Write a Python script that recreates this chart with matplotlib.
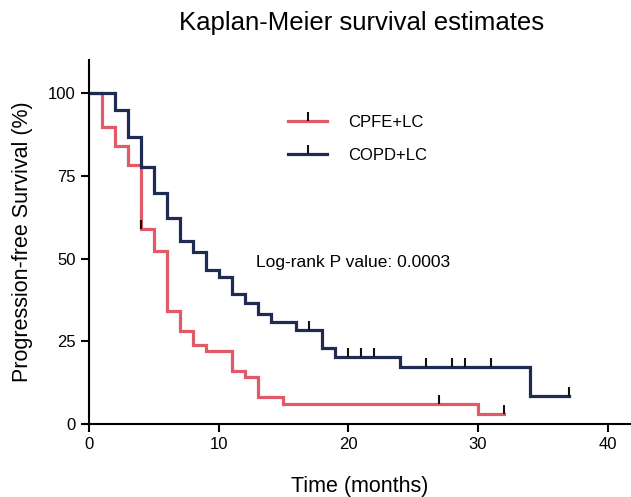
import numpy as np
import matplotlib
matplotlib.use("Agg")
import matplotlib.pyplot as plt
from matplotlib.path import Path
from matplotlib.lines import Line2D

plt.rcParams['font.family'] = ['Liberation Sans', 'DejaVu Sans']

# CPFE+LC curve (time in months, survival %)
cpfe_t = [0, 1, 2, 3, 4, 5, 6, 7, 8, 9, 11, 12, 13, 15, 30, 32]
cpfe_s = [100, 89.7, 84.0, 78.2, 58.8, 52.4, 34.2, 28.2, 23.9, 22.1, 16.1, 14.2, 8.2, 6.1, 3.0, 3.0]
cpfe_cens_t = [4, 27, 32]
cpfe_cens_s = [58.8, 6.1, 3.0]

# COPD+LC curve
copd_t = [0, 2, 3, 4, 5, 6, 7, 8, 9, 10, 11, 12, 13, 14, 16, 18, 19, 24, 34, 37]
copd_s = [100, 94.8, 86.7, 77.6, 69.7, 62.4, 55.2, 52.1, 46.4, 44.5, 39.4, 36.7, 33.3, 30.9,
          28.5, 23.0, 20.3, 17.2, 8.6, 8.6]
copd_cens_t = [17, 20, 21, 22, 26, 28, 29, 31, 37]
copd_cens_s = [28.5, 20.3, 20.3, 20.3, 17.2, 17.2, 17.2, 17.2, 8.6]

red = '#e05a68'
navy = '#1f2b52'

# censor tick: vertical stroke going up from the point
tick = Path([(0, 0), (0, 1)], [Path.MOVETO, Path.LINETO])

fig = plt.figure(figsize=(6.31, 4.97), dpi=100)
ax = fig.add_axes([89 / 631, 1 - 424 / 497, (631 - 89) / 631, (424 - 60) / 497])

ax.step(cpfe_t, cpfe_s, where='post', color=red, lw=2.3, solid_joinstyle='miter')
ax.step(copd_t, copd_s, where='post', color=navy, lw=2.3, solid_joinstyle='miter')
ax.plot(cpfe_cens_t, cpfe_cens_s, ls='none', marker=tick, ms=13, mew=1.5, color='#111111')
ax.plot(copd_cens_t, copd_cens_s, ls='none', marker=tick, ms=13, mew=1.5, color='#111111')

ax.set_xlim(0, 41.8)
ax.set_ylim(0, 110)
ax.set_xticks([0, 10, 20, 30, 40])
ax.set_yticks([0, 25, 50, 75, 100])
ax.tick_params(labelsize=12, width=1.5, length=6, direction='out')
for side in ['top', 'right']:
    ax.spines[side].set_visible(False)
for side in ['left', 'bottom']:
    ax.spines[side].set_linewidth(1.5)

ax.set_xlabel('Time (months)', fontsize=15.5, labelpad=17)
ax.set_ylabel('Progression-free Survival (%)', fontsize=15.5, labelpad=11)
fig.text(362 / 631, 1 - 23 / 497, 'Kaplan-Meier survival estimates', fontsize=18.5,
         ha='center', va='center')

ax.text(12.9, 48.8, 'Log-rank P value: 0.0003', fontsize=12.5, va='center', ha='left')

h_red = (Line2D([], [], color=red, lw=2.3),
         Line2D([], [], ls='none', marker=tick, ms=13, mew=1.5, color='#111111'))
h_navy = (Line2D([], [], color=navy, lw=2.3),
          Line2D([], [], ls='none', marker=tick, ms=13, mew=1.5, color='#111111'))
ax.legend([h_red, h_navy], ['CPFE+LC', 'COPD+LC'], loc='upper left',
          bbox_to_anchor=(0.368, 0.848), frameon=False, fontsize=12,
          handlelength=2.3, handletextpad=1.3, labelspacing=1.05,
          borderpad=0, borderaxespad=0)

fig.savefig('out.png', dpi=100)
